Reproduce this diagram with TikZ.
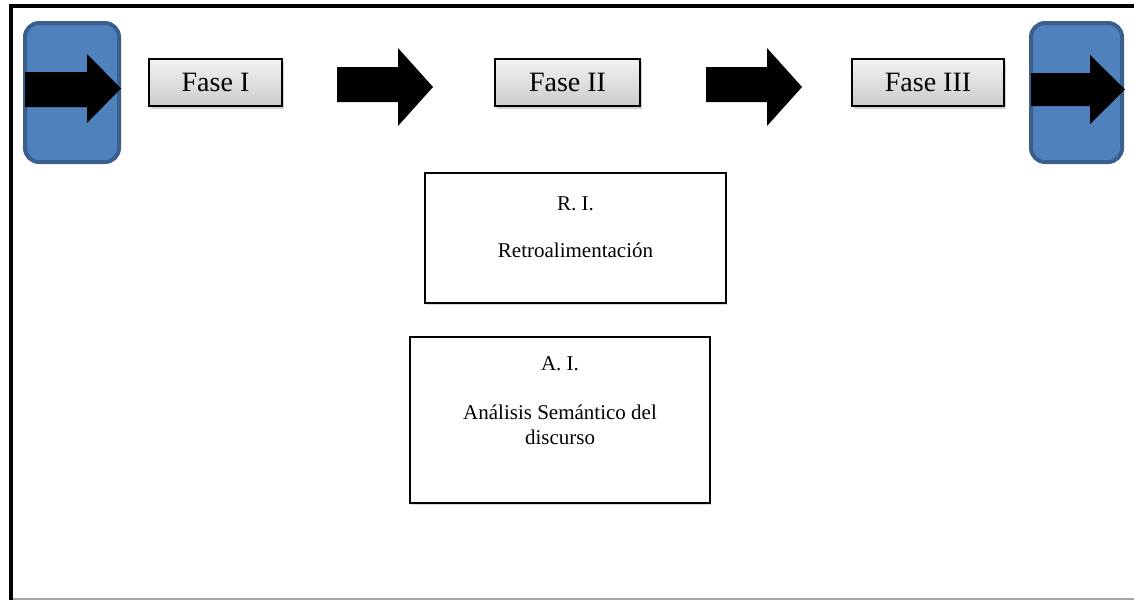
\documentclass[tikz,border=0pt]{standalone}
\usepackage{fontspec}
\setmainfont{Liberation Serif}
\usetikzlibrary{shadows}
\definecolor{tabblue}{HTML}{4F81BD}
\definecolor{tabedge}{HTML}{3A5F8C}
\tikzset{
  phasebox/.style={draw=black, line width=1.4pt, top color=black!5, bottom color=black!20,
    drop shadow={opacity=0.35, shadow xshift=1.5pt, shadow yshift=-2.5pt},
    font=\fontsize{28}{32}\selectfont, inner sep=0pt},
  infobox/.style={draw=black, line width=1.4pt, fill=white,
    drop shadow={opacity=0.3, shadow xshift=0.5pt, shadow yshift=-2pt}},
  infotext/.style={font=\fontsize{21}{25}\selectfont, align=center, inner sep=0pt, anchor=base},
  tab/.style={draw=tabedge, line width=4pt, fill=tabblue, rounded corners=14pt},
  blockarrow/.style={fill=black},
}
\begin{document}
\begin{tikzpicture}[x=1pt, y=-1pt]
\useasboundingbox (0,0) rectangle (1134,600);
% outer frame
\draw[line width=4pt] (11,600) -- (11,6) -- (1134,6);
\draw[black!35, line width=2pt] (13,599) -- (1134,599);

% end tabs with block arrows
\draw[tab] (25,23) rectangle (119,162);
\fill[blockarrow] (25,72) -- (87,72) -- (87,54) -- (121,88.5) -- (87,123) -- (87,107) -- (25,107) -- cycle;
\draw[tab] (1031,23) rectangle (1122,162);
\fill[blockarrow] (1031,73) -- (1090,73) -- (1090,55) -- (1125,89.5) -- (1090,124) -- (1090,106) -- (1031,106) -- cycle;

% phase boxes
\node[phasebox, minimum width=133pt, minimum height=47pt] (f1) at (215.5,82.5) {Fase I};
\node[phasebox, minimum width=145pt, minimum height=47pt] (f2) at (567.5,82.5) {Fase II};
\node[phasebox, minimum width=152pt, minimum height=47pt] (f3) at (928,82.5) {Fase III};

% block arrows between phases
\fill[blockarrow] (337,67) -- (398,67) -- (398,48) -- (433,87) -- (398,126) -- (398,102) -- (337,102) -- cycle;
\fill[blockarrow] (706,67) -- (767,67) -- (767,48) -- (802,87) -- (767,126) -- (767,102) -- (706,102) -- cycle;

% information boxes
\node[infobox, minimum width=301pt, minimum height=130pt] (ri) at (575.5,238) {};
\node[infotext] (ritag) at (575.5,210) {R. I.};
\node[infotext] (ritext) at (575.5,257) {Retroalimentación};

\node[infobox, minimum width=300pt, minimum height=166pt] (ai) at (560,420) {};
\node[infotext] (aitag) at (560,370) {A. I.};
\node[infotext] (aitext) at (560,419) {Análisis Semántico del};
\node[infotext] (aitext2) at (560,444) {discurso};
\end{tikzpicture}
\end{document}
